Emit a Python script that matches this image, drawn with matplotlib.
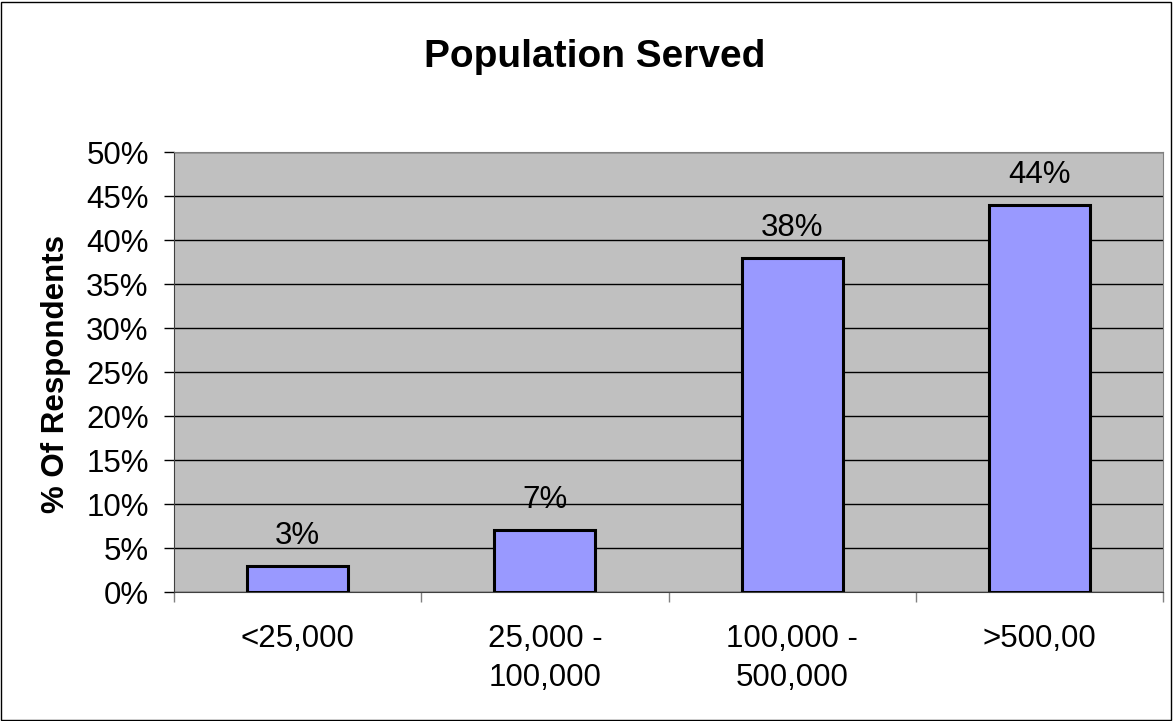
import matplotlib
matplotlib.use("Agg")
import matplotlib.pyplot as plt
import numpy as np

categories = ["<25,000", "25,000 -\n100,000", "100,000 -\n500,000", ">500,00"]
values = [3, 7, 38, 44]
yticks = [0, 5, 10, 15, 20, 25, 30, 35, 40, 45, 50]
title = "Population Served"
ylabel = "% Of Respondents"

plt.rcParams['font.family'] = ['Liberation Sans', 'DejaVu Sans']
FS = 22.5

fig = plt.figure(figsize=(11.73, 7.21), dpi=100)
fig.patch.set_facecolor('white')
fig.add_artist(plt.Rectangle((0.0005, 0.0008), 0.998, 0.997, transform=fig.transFigure,
                             fill=False, edgecolor='black', linewidth=1))

ax = fig.add_axes([174/1173, (721-592)/721, (1163-174)/1173, (592-152)/721])
ax.set_facecolor('#C0C0C0')
x = np.arange(len(categories))
ax.bar(x, values, width=0.408, color='#9999FF', edgecolor='black', linewidth=2.2, zorder=3)
for xi, v in zip(x, values):
    ax.annotate(f"{v}%", (xi, v), xytext=(0, 15.8), textcoords='offset points',
                ha='center', va='baseline', fontsize=FS, zorder=4)

ax.set_xlim(-0.5, len(categories) - 0.5)
ax.set_ylim(0, 50)
ax.set_yticks(yticks)
ax.set_yticklabels([f"{t}%" for t in yticks], fontsize=FS)
ax.yaxis.grid(True, color='black', linewidth=1.0, zorder=1)
ax.set_axisbelow(True)
ax.set_xticks(x)
ax.set_xticklabels(categories, fontsize=FS, linespacing=1.38)
ax.tick_params(axis='x', length=0, pad=23)
ax.set_xticks(np.arange(len(categories) + 1) - 0.5, minor=True)
ax.tick_params(axis='x', which='minor', length=7.2, width=1, direction='out', color='#808080')
ax.tick_params(axis='y', length=7.2, width=1, direction='out', pad=11, color='black')
for s in ['top', 'right']:
    ax.spines[s].set_color('#808080')
ax.spines['left'].set_color('#404040')
ax.spines['bottom'].set_color('#404040')

fig.text(56/1173, 1 - 374/721, ylabel, rotation=90, ha='center', va='center',
         fontsize=FS, fontweight='bold')
fig.text(595/1173, 1 - 67/721, title, ha='center', va='baseline', fontsize=28, fontweight='bold')

fig.savefig("out.png", dpi=100)
